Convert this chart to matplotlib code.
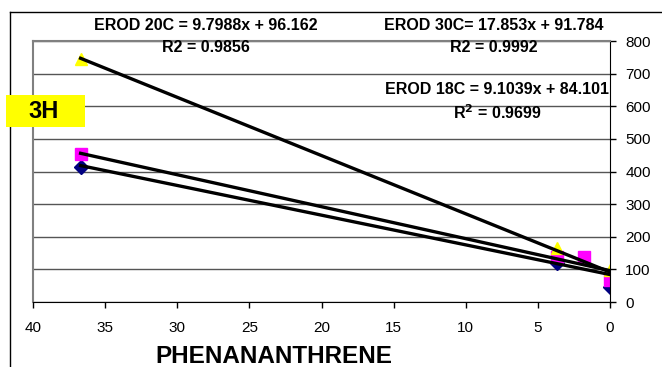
import matplotlib.pyplot as plt
from matplotlib.lines import Line2D
from matplotlib.patches import Rectangle
import numpy as np

plt.rcParams['font.family'] = ['Liberation Sans', 'DejaVu Sans']

# phenanthrene concentration vs EROD activity, 3H
x_18 = [36.7, 3.7, 0.0]
y_18 = [415, 120, 46]
x_20 = [36.7, 3.7, 1.8, 0.0]
y_20 = [455, 138, 138, 67]
x_30 = [36.7, 3.7, 0.0]
y_30 = [744, 166, 98]

# trendline coefficients (slope, intercept) from the labels
fit_18 = (9.1039, 84.101)
fit_20 = (9.7988, 96.162)
fit_30 = (17.853, 91.784)

xticks = [40, 35, 30, 25, 20, 15, 10, 5, 0]
yticks = [0, 100, 200, 300, 400, 500, 600, 700, 800]

fig = plt.figure(figsize=(6.62, 3.67), dpi=100)
ax = fig.add_axes([33 / 662, 1 - 302 / 367, 577 / 662, 261 / 367])

# trendlines
for xs, (m, b) in [(x_18, fit_18), (x_20, fit_20), (x_30, fit_30)]:
    xl = np.array([0.0, max(xs)])
    ax.plot(xl, m * xl + b, color='black', lw=2.4, zorder=3)

ax.plot(x_18, y_18, ls='none', marker='D', ms=7, color='#000080', zorder=2)
ax.plot(x_20, y_20, ls='none', marker='s', ms=8, color='#FF00FF', zorder=2)
ax.plot(x_30, y_30, ls='none', marker='^', ms=9, color='#FFFF00', zorder=2)

ax.set_xlim(40, 0)
ax.set_ylim(0, 800)
ax.set_xticks(xticks)
ax.set_yticks(yticks)
ax.yaxis.tick_right()
ax.tick_params(axis='both', direction='out', length=4, width=1, labelsize=11, colors='black')
ax.tick_params(axis='y', pad=7)
ax.tick_params(axis='x', pad=10)
ax.grid(axis='y', color='#555555', lw=1)
ax.set_axisbelow(True)

for s in ['left', 'top']:
    ax.spines[s].set_color('#808080')
    ax.spines[s].set_linewidth(1.5)
ax.spines['right'].set_color('black')
ax.spines['bottom'].set_color('black')

ax.set_xlabel('PHENANANTHRENE', fontsize=17.5, fontweight='bold')
ax.xaxis.set_label_coords(0.418, -0.165)

# equation labels
fs = 11.5
fig.text(206 / 662, 1 - 25 / 367, 'EROD 20C = 9.7988x + 96.162', ha='center', va='center', fontsize=fs, fontweight='bold')
fig.text(206 / 662, 1 - 48 / 367, 'R2 = 0.9856', ha='center', va='center', fontsize=fs, fontweight='bold')
fig.text(494 / 662, 1 - 25 / 367, 'EROD 30C= 17.853x + 91.784', ha='center', va='center', fontsize=fs, fontweight='bold')
fig.text(494 / 662, 1 - 48 / 367, 'R2 = 0.9992', ha='center', va='center', fontsize=fs, fontweight='bold')
fig.text(497 / 662, 1 - 90 / 367, 'EROD 18C = 9.1039x + 84.101', ha='center', va='center', fontsize=fs, fontweight='bold')
fig.text(497 / 662, 1 - 113 / 367, r'R$^\mathbf{2}$ = 0.9699', ha='center', va='center', fontsize=fs, fontweight='bold')

# 3H tag, drawn over the plot area
fig.add_artist(Rectangle((6 / 662, 1 - 127 / 367), 79 / 662, 32 / 367, transform=fig.transFigure,
                         fc='#FFFF00', ec='none', zorder=5))
fig.text(44 / 662, 1 - 111 / 367, '3H', ha='center', va='center', fontsize=17, fontweight='bold', zorder=6)

# outer chart border
fig.add_artist(Line2D([10 / 662, 10 / 662], [0, 1 - 12 / 367], color='black', lw=1))
fig.add_artist(Line2D([10 / 662, 1], [1 - 12 / 367, 1 - 12 / 367], color='black', lw=1))

fig.savefig('out.png', dpi=100)
